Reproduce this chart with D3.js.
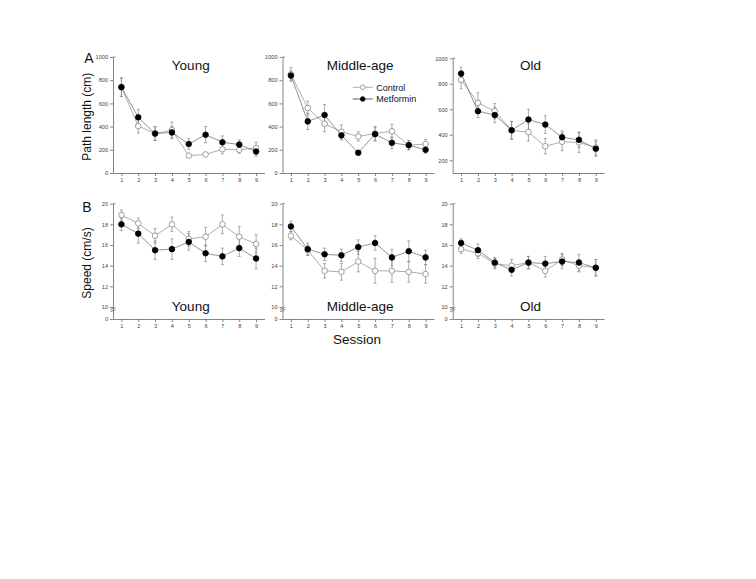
<!DOCTYPE html>
<html>
<head>
<meta charset="utf-8">
<script src="https://cdn.jsdelivr.net/npm/d3@7"></script>
<style>
  body { margin: 0; background: #fff; }
  text { font-family: "Liberation Sans", Arial, sans-serif; }
</style>
</head>
<body>
<div id="chart"></div>
<script>
// Sessions and group names
const sessions = [1, 2, 3, 4, 5, 6, 7, 8, 9];
const groups = ["Young", "Middle-age", "Old"];

// Path length (cm), mean and error
const pathControl = {
  "Young":      [740, 405, 340, 370, 150, 160, 205, 200, 215],
  "Middle-age": [850, 560, 425, 355, 315, 340, 360, 240, 250],
  "Old":        [830, 650, 585, 435, 420, 310, 345, 340, 300]
};
const pathControlErr = {
  "Young":      [80, 60, 60, 70, 15, 15, 40, 30, 50],
  "Middle-age": [60, 60, 70, 60, 40, 60, 60, 40, 40],
  "Old":        [70, 80, 60, 70, 70, 60, 70, 80, 60]
};
const pathMetformin = {
  "Young":      [740, 480, 340, 350, 250, 330, 265, 245, 185],
  "Middle-age": [840, 445, 500, 325, 175, 335, 260, 240, 200],
  "Old":        [880, 585, 555, 435, 520, 480, 380, 360, 290]
};
const pathMetforminErr = {
  "Young":      [80, 70, 60, 50, 45, 70, 55, 40, 40],
  "Middle-age": [40, 70, 90, 40, 15, 60, 50, 40, 30],
  "Old":        [50, 50, 60, 70, 80, 70, 50, 60, 60]
};

// Speed (cm/s), mean and error
const speedControl = {
  "Young":      [18.9, 18.1, 16.9, 18.0, 16.6, 16.8, 18.0, 16.8, 16.1],
  "Middle-age": [16.9, 15.5, 13.5, 13.4, 14.4, 13.5, 13.5, 13.4, 13.2],
  "Old":        [15.6, 15.2, 14.2, 14.0, 14.3, 13.5, 14.6, 14.0, 13.8]
};
const speedControlErr = {
  "Young":      [0.5, 0.5, 0.7, 0.7, 0.7, 0.9, 0.9, 1.0, 0.9],
  "Middle-age": [0.4, 0.5, 0.7, 0.8, 1.0, 1.2, 1.1, 1.0, 0.9],
  "Old":        [0.4, 0.5, 0.5, 0.6, 0.6, 0.6, 0.6, 0.6, 0.8]
};
const speedMetformin = {
  "Young":      [18.0, 17.1, 15.5, 15.6, 16.3, 15.2, 14.9, 15.7, 14.7],
  "Middle-age": [17.8, 15.6, 15.1, 15.0, 15.8, 16.2, 14.8, 15.4, 14.8],
  "Old":        [16.2, 15.5, 14.3, 13.6, 14.3, 14.2, 14.4, 14.3, 13.8]
};
const speedMetforminErr = {
  "Young":      [0.6, 0.9, 0.9, 1.0, 0.8, 0.8, 0.8, 0.8, 1.0],
  "Middle-age": [0.5, 0.6, 0.6, 0.6, 0.7, 0.7, 0.8, 1.0, 0.7],
  "Old":        [0.4, 0.6, 0.5, 0.6, 0.6, 0.7, 0.7, 0.8, 0.8]
};

// Tick labels
const pathTicks = [0, 200, 400, 600, 800, 1000];
const pathTicksOld = [200, 400, 600, 800, 1000];
const speedTicks = [0, 10, 12, 14, 16, 18, 20];

const width = 756, height = 579;
const svg = d3.select("#chart").append("svg")
  .attr("width", width)
  .attr("height", height);

// layout of the three columns
const axisX = [113, 282.5, 452.7];
const panelW = 151.5;
const axisColor = "#666";

function drawPanel(col, row) {
  const group = groups[col];
  const x0 = axisX[col];
  const x = d3.scaleLinear().domain([0.5, 9.5]).range([x0, x0 + panelW]);

  let y, ticks, ctrl, ctrlErr, metf, metfErr;
  if (row === 0) {
    if (group === "Old") {
      y = d3.scaleLinear().domain([100, 1000]).range([173, 58.3]);
      ticks = pathTicksOld;
    } else {
      y = d3.scaleLinear().domain([0, 1000]).range([173, 57]);
      ticks = pathTicks;
    }
    ctrl = pathControl[group]; ctrlErr = pathControlErr[group];
    metf = pathMetformin[group]; metfErr = pathMetforminErr[group];
  } else {
    // broken axis: 0 then jump to 10..20
    y = d3.scaleLinear().domain([0, 10, 20]).range([319, 307, 203.7]);
    ticks = speedTicks;
    ctrl = speedControl[group]; ctrlErr = speedControlErr[group];
    metf = speedMetformin[group]; metfErr = speedMetforminErr[group];
  }
  const yBottom = y.range()[0];
  const yTop = y.range()[y.range().length - 1];

  const g = svg.append("g");

  // axes
  const xAxis = g.append("g")
    .attr("transform", `translate(0, ${yBottom})`)
    .call(d3.axisBottom(x).tickValues(sessions).tickSize(3).tickPadding(2).tickSizeOuter(0));
  const yAxis = g.append("g")
    .attr("transform", `translate(${x0}, 0)`)
    .call(d3.axisLeft(y).tickValues(ticks).tickFormat(d3.format("d"))
      .tickSize(3).tickPadding(2).tickSizeOuter(0));
  [xAxis, yAxis].forEach(a => {
    a.select(".domain").attr("stroke", axisColor).attr("stroke-width", 0.8);
    a.selectAll(".tick line").attr("stroke", axisColor).attr("stroke-width", 0.8);
    a.selectAll(".tick text").attr("fill", "#444")
      .style("font-size", "5.6px")
      .style("font-family", "'Liberation Sans', Arial, sans-serif");
  });
  // little cap at the top of the y axis
  g.append("line")
    .attr("x1", x0).attr("x2", x0 + 2.5)
    .attr("y1", yTop).attr("y2", yTop)
    .attr("stroke", axisColor).attr("stroke-width", 0.8);

  if (row === 1) {
    // axis break marks
    [0, 2.2].forEach(off => {
      g.append("line")
        .attr("x1", x0 - 2.5).attr("x2", x0 + 2.5)
        .attr("y1", y(10) + 2.5 + off).attr("y2", y(10) + 0.5 + off)
        .attr("stroke", axisColor).attr("stroke-width", 0.8);
    });
  }

  // title
  g.append("text")
    .attr("x", x0 + panelW / 2 + 2)
    .attr("y", row === 0 ? 70 : 311)
    .attr("text-anchor", "middle")
    .style("font-size", "13.5px")
    .attr("fill", "#111")
    .text(group);

  const series = [
    { vals: ctrl, errs: ctrlErr, fill: "#fff", stroke: "#888", line: "#999" },
    { vals: metf, errs: metfErr, fill: "#000", stroke: "#000", line: "#777" }
  ];

  // error bars first
  series.forEach(s => {
    const eb = g.append("g").attr("stroke", "#888").attr("stroke-width", 0.7);
    sessions.forEach((sess, i) => {
      const cx = x(sess);
      const hi = y(s.vals[i] + s.errs[i]);
      const lo = y(s.vals[i] - s.errs[i]);
      eb.append("line").attr("x1", cx).attr("x2", cx).attr("y1", hi).attr("y2", lo);
      eb.append("line").attr("x1", cx - 1.5).attr("x2", cx + 1.5).attr("y1", hi).attr("y2", hi);
      eb.append("line").attr("x1", cx - 1.5).attr("x2", cx + 1.5).attr("y1", lo).attr("y2", lo);
    });
  });

  const line = d3.line().x((d, i) => x(sessions[i])).y(d => y(d));
  series.forEach(s => {
    g.append("path")
      .datum(s.vals)
      .attr("d", line)
      .attr("fill", "none")
      .attr("stroke", s.line)
      .attr("stroke-width", 0.8);
  });
  series.forEach(s => {
    g.selectAll(null)
      .data(s.vals)
      .enter()
      .append("circle")
      .attr("cx", (d, i) => x(sessions[i]))
      .attr("cy", d => y(d))
      .attr("r", 2.8)
      .attr("fill", s.fill)
      .attr("stroke", s.stroke)
      .attr("stroke-width", 0.8);
  });
}

for (let row = 0; row < 2; row++) {
  for (let col = 0; col < 3; col++) drawPanel(col, row);
}

// panel letters
svg.append("text").attr("x", 89).attr("y", 63).attr("text-anchor", "middle")
  .style("font-size", "14px").attr("fill", "#111").text("A");
svg.append("text").attr("x", 87).attr("y", 212).attr("text-anchor", "middle")
  .style("font-size", "14px").attr("fill", "#111").text("B");

// axis labels
svg.append("text")
  .attr("transform", "translate(91, 116.7) rotate(-90)")
  .attr("text-anchor", "middle")
  .style("font-size", "12px").attr("fill", "#111")
  .text("Path length (cm)");
svg.append("text")
  .attr("transform", "translate(91, 263) rotate(-90)")
  .attr("text-anchor", "middle")
  .style("font-size", "12px").attr("fill", "#111")
  .text("Speed (cm/s)");
svg.append("text")
  .attr("x", 357).attr("y", 344)
  .attr("text-anchor", "middle")
  .style("font-size", "13.5px").attr("fill", "#111")
  .text("Session");

// legend
const legend = svg.append("g").attr("transform", "translate(352.7, 87.3)");
const legendItems = [
  { name: "Control", fill: "#fff", stroke: "#888", line: "#999" },
  { name: "Metformin", fill: "#000", stroke: "#000", line: "#333" }
];
legendItems.forEach((d, i) => {
  const row = legend.append("g").attr("transform", `translate(0, ${i * 11.7})`);
  row.append("line").attr("x1", 0).attr("x2", 20).attr("y1", 0).attr("y2", 0)
    .attr("stroke", d.line).attr("stroke-width", 0.8);
  row.append("circle").attr("cx", 10).attr("cy", 0).attr("r", 2.3)
    .attr("fill", d.fill).attr("stroke", d.stroke).attr("stroke-width", 0.8);
  row.append("text").attr("x", 23.5).attr("y", 3.2)
    .style("font-size", "9px").attr("fill", "#111").text(d.name);
});
</script>
</body>
</html>
